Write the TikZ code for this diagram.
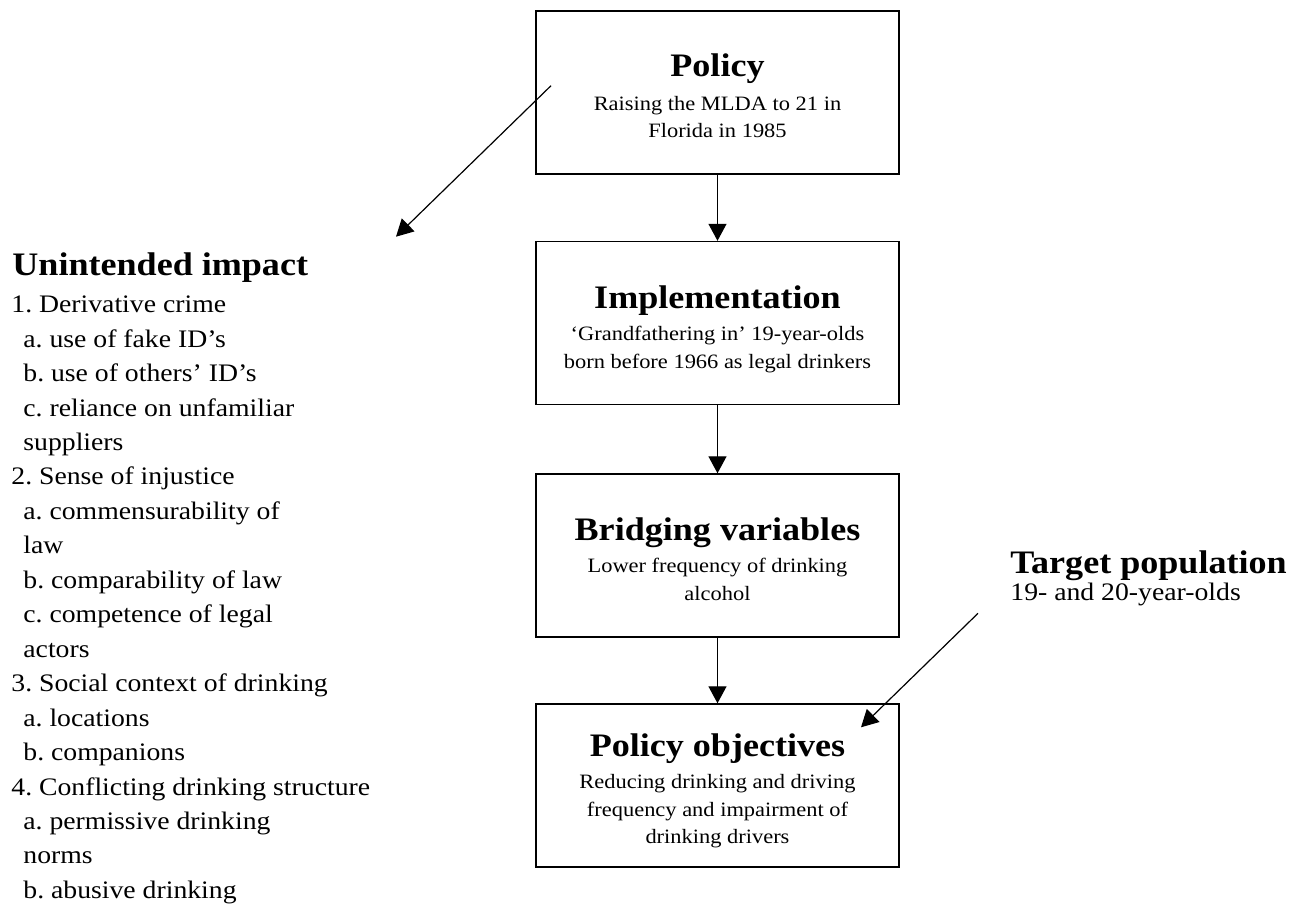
\documentclass[tikz,border=0pt]{standalone}
\usepackage{fontspec}
\setmainfont[FakeStretch=1.1]{Liberation Serif}
\usetikzlibrary{arrows.meta}
\frenchspacing
\tikzset{
  box/.style={draw, line width=0.7pt, minimum width=181.5pt, minimum height=81.5pt, inner sep=0pt},
  bhead/.style={font=\fontsize{16.4}{19}\selectfont\bfseries\frenchspacing, anchor=base, inner sep=0pt},
  btext/.style={font=\fontsize{10.2}{12}\selectfont\frenchspacing, anchor=base, inner sep=0pt},
  lhead/.style={font=\fontsize{16.4}{19}\selectfont\bfseries\frenchspacing, anchor=base west, inner sep=0pt},
  litem/.style={font=\fontsize{12.6}{14}\selectfont\frenchspacing, anchor=base west, inner sep=0pt},
  arr/.style={line width=0.6pt, -{Triangle[length=8.5pt,width=9pt]}},
}
\begin{document}
\begin{tikzpicture}[x=0.5pt,y=-0.5pt]
\useasboundingbox (0,0) rectangle (1298,906);
% boxes
\node[box] (pol) at (717.5,92.5) {};
\node[box] (imp) at (717.5,323) {};
\node[box] (bri) at (717.5,555.5) {};
\node[box] (obj) at (717.5,785.5) {};
% box texts
\node[bhead] (polh) at (717.5,76) {Policy};
\node[btext] (pol1) at (717.5,110) {Raising the MLDA to 21 in};
\node[btext] (pol2) at (717.5,137) {Florida in 1985};
\node[bhead] (imph) at (717.5,308.3) {Implementation};
\node[btext] (imp1) at (717.5,340) {‘Grandfathering in’ 19-year-olds};
\node[btext] (imp2) at (717.5,368.3) {born before 1966 as legal drinkers};
\node[bhead] (brih) at (717.5,540.7) {Bridging variables};
\node[btext] (bri1) at (717.5,572.7) {Lower frequency of drinking};
\node[btext] (bri2) at (717.5,600.7) {alcohol};
\node[bhead] (objh) at (717.5,756) {Policy objectives};
\node[btext] (obj1) at (717.5,788.3) {Reducing drinking and driving};
\node[btext] (obj2) at (717.5,816.7) {frequency and impairment of};
\node[btext] (obj3) at (717.5,843.3) {drinking drivers};
% vertical arrows
\draw[arr] (pol) -- (imp);
\draw[arr] (imp) -- (bri);
\draw[arr] (bri) -- (obj);
% unintended impact
\node[lhead] (uh) at (12,275) {Unintended impact};
\node[litem] (u1) at (11,312.7) {1. Derivative crime};
\node[litem] (u2) at (23,347.1) {a. use of fake ID’s};
\node[litem] (u3) at (23,381.6) {b. use of others’ ID’s};
\node[litem] (u4) at (23,416.0) {c. reliance on unfamiliar};
\node[litem] (u5) at (23,450.5) {suppliers};
\node[litem] (u6) at (11,484.9) {2. Sense of injustice};
\node[litem] (u7) at (23,519.4) {a. commensurability of};
\node[litem] (u8) at (23,553.8) {law};
\node[litem] (u9) at (23,588.3) {b. comparability of law};
\node[litem] (u10) at (23,622.7) {c. competence of legal};
\node[litem] (u11) at (23,657.2) {actors};
\node[litem] (u12) at (11,691.6) {3. Social context of drinking};
\node[litem] (u13) at (23,726.1) {a. locations};
\node[litem] (u14) at (23,760.5) {b. companions};
\node[litem] (u15) at (11,795.0) {4. Conflicting drinking structure};
\node[litem] (u16) at (23,829.4) {a. permissive drinking};
\node[litem] (u17) at (23,863.9) {norms};
\node[litem] (u18) at (23,898.3) {b. abusive drinking};
% target population
\node[lhead] (th) at (1010,573.3) {Target population};
\node[litem] (t1) at (1010,600) {19- and 20-year-olds};
% diagonal arrows
\coordinate (ua) at (551,85.7);
\coordinate (ub) at (396,236.7);
\coordinate (ta) at (978,613.3);
\coordinate (tb) at (861,727.3);
\draw[arr] (ua) -- (ub);
\draw[arr] (ta) -- (tb);
\end{tikzpicture}
\end{document}
